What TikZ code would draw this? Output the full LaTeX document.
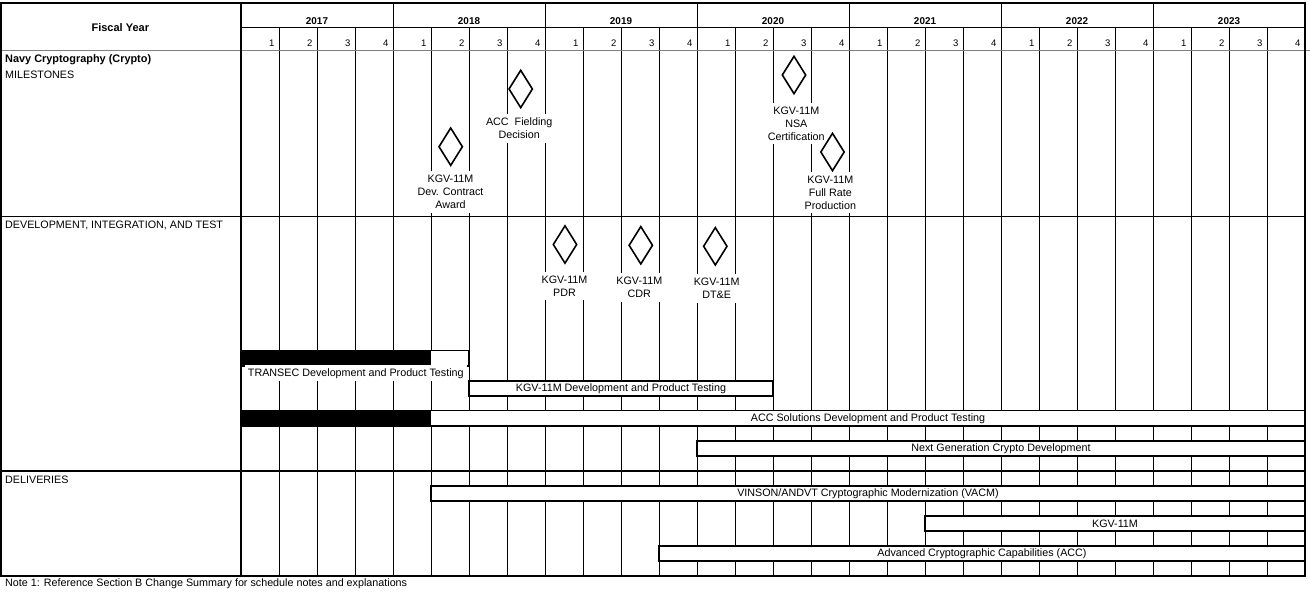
\documentclass[tikz,border=0pt]{standalone}
\usepackage{fontspec}
\setmainfont{Liberation Sans}
\usetikzlibrary{shapes.geometric}
\begin{document}
\begin{tikzpicture}[x=1pt,y=-1pt,
  gridline/.style={line width=0.8pt},
  frameline/.style={line width=1.2pt},
  sepline/.style={line width=1.6pt},
  barbox/.style={draw, line width=1.5pt, fill=white},
  blackpart/.style={fill=black},
  ms/.style={diamond, draw, line width=1.6pt, minimum width=24pt, minimum height=38pt, inner sep=0pt},
  txt/.style={font=\fontsize{10.75}{13}\selectfont, inner sep=0pt},
  mlabel/.style={txt, fill=white, align=center, inner xsep=1pt, inner ysep=4pt},
  sectlbl/.style={txt, anchor=west},
  yearlbl/.style={font=\bfseries\fontsize{9.9}{12}\selectfont, inner sep=0pt},
  qlbl/.style={font=\fontsize{9.5}{12}\selectfont, inner sep=0pt, anchor=east},
  barlbl/.style={txt}
]
\useasboundingbox (0,0) rectangle (1310,596);

% ---- grid ----
\foreach \k in {0,...,6} {
  \foreach \q in {1,2,3} {
    \draw[gridline] ({241+152*\k+38*\q},27) -- ({241+152*\k+38*\q},576);
  }
}
\foreach \k in {1,...,6} {
  \draw[gridline] ({241+152*\k},3) -- ({241+152*\k},576);
}
\draw[gridline] (241,27) -- (1305,27);
\draw[line width=1pt, draw=black!50] (0,51) -- (1310,51);
\draw[frameline] (1,3) rectangle (1305,576);
\draw[frameline] (241,3) -- (241,576);

% ---- header ----
\node[font=\bfseries\fontsize{11}{13}\selectfont, inner sep=0pt] (fy) at (120.3,27.3) {Fiscal Year};
\foreach \yr [count=\k from 0] in {2017,2018,2019,2020,2021,2022,2023} {
  \node[yearlbl] (yr\k) at ({317+152*\k},21.5) {\yr};
  \foreach \q in {1,2,3,4} {
    \node[qlbl] (q\k-\q) at ({241+152*\k+38*\q-4.5},43.5) {\q};
  }
}

% ---- left column ----
\node[sectlbl, font=\bfseries\fontsize{10.9}{13}\selectfont] (navy) at (5,59.3) {Navy Cryptography (Crypto)};
\node[sectlbl] (milestones) at (5,75.3) {MILESTONES};
\node[sectlbl] (dev) at (5,225.3) {DEVELOPMENT, INTEGRATION, AND TEST};
\node[sectlbl] (deliv) at (5,480) {DELIVERIES};

% ---- milestones ----
\node[ms] (m1) at (450.7,146.7) {};
\node[mlabel] (m1l) at (450.5,192) {KGV-11M\\Dev. Contract\\Award};
\node[ms] (m2) at (520.7,89) {};
\node[mlabel] (m2l) at (519.2,128.5) {ACC\ \ Fielding\\Decision};
\node[ms] (m3) at (794,75) {};
\node[mlabel] (m3l) at (796.3,123.5) {KGV-11M\\NSA\\Certification};
\node[mlabel] (m4l) at (830.3,192.4) {KGV-11M\\Full Rate\\Production};
\node[ms] (m4) at (832.5,152) {};

\node[ms] (d1) at (565,244.5) {};
\node[mlabel] (d1l) at (564.5,286) {KGV-11M\\PDR};
\node[ms] (d2) at (640.8,245.3) {};
\node[mlabel] (d2l) at (639.3,287.6) {KGV-11M\\CDR};
\node[ms] (d3) at (715.3,246.3) {};
\node[mlabel] (d3l) at (716.7,288.6) {KGV-11M\\DT\&E};

% ---- section separators ----
\draw[sepline] (1,216.5) -- (1305,216.5);
\draw[sepline] (1,471) -- (1305,471);

% ---- bars ----
\draw[barbox] (241,350.7) rectangle (469,366);
\fill[blackpart] (241,350.7) rectangle (431,366);
\draw[line width=1.5pt] (241,350.7) rectangle (469,366);
\node[mlabel, inner ysep=3pt, inner xsep=3pt] (b1l) at (355.8,373.3) {TRANSEC Development and Product Testing};

\draw[barbox] (469,381) rectangle (773,396);
\node[barlbl] (b2l) at (621,388.5) {KGV-11M Development and Product Testing};

\draw[barbox] (241,410.7) rectangle (1305,426);
\fill[blackpart] (241,410.7) rectangle (431,426);
\draw[line width=1.5pt] (241,410.7) rectangle (1305,426);
\node[barlbl] (b3l) at (868,418.3) {ACC Solutions Development and Product Testing};

\draw[barbox] (697,441) rectangle (1305,456);
\node[barlbl] (b4l) at (1001,448.5) {Next Generation Crypto Development};

\draw[barbox] (431,486) rectangle (1305,501);
\node[barlbl] (b5l) at (868,493.5) {VINSON/ANDVT Cryptographic Modernization (VACM)};

\draw[barbox] (925,516) rectangle (1305,531);
\node[barlbl] (b6l) at (1115,523.5) {KGV-11M};

\draw[barbox] (659,546) rectangle (1305,561);
\node[barlbl] (b7l) at (982,553.5) {Advanced Cryptographic Capabilities (ACC)};

% ---- footer ----
\node[sectlbl] (note) at (5,584) {Note 1: Reference Section B Change Summary for schedule notes and explanations};
\end{tikzpicture}
\end{document}
